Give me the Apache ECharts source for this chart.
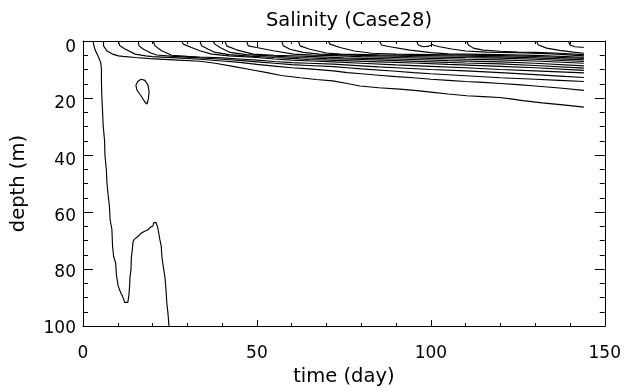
<!DOCTYPE html>
<html>
<head>
<meta charset="utf-8">
<script src="https://cdn.jsdelivr.net/npm/echarts@6/dist/echarts.min.js"></script>
<style>html,body{margin:0;padding:0;background:#fff}#c{width:624px;height:392px}</style>
</head>
<body>
<div id="c"></div>
<script>
// Tick labels
const xTicks = [0, 50, 100, 150];
const yTicks = [0, 20, 40, 60, 80, 100];

// Contour lines: [time (day), depth (m)]
const longContour = [[2.9,0],[3.1,1.5],[3.5,3.2],[4.4,5.4],[5.1,7.6],[5.3,10],[5.3,14],[5.4,19],[5.6,24],[5.8,29.6],[6.2,35],[6.3,40],[6.7,45],[6.9,50],[7.3,54.8],[7.6,58],[7.8,62.7],[8.3,66],[8.5,72],[8.8,75.5],[9.4,78],[9.6,82],[10.1,85.9],[10.9,88.5],[11.3,89.3],[12.0,91.7],[12.9,91.7],[13.2,89],[13.4,86],[13.5,83],[13.8,80],[13.9,76],[14.2,73],[14.4,70.3],[14.8,69.5],[15.8,68.6],[16.6,67.5],[17.6,66.8],[18.7,66.2],[19.5,65.2],[20.1,64.9],[20.3,63.8],[21.0,63.6],[21.5,65.5],[22.1,69.7],[22.5,72],[22.7,76],[23.2,80],[23.6,83.4],[23.9,88],[24.1,92],[24.4,95.2],[24.6,98],[24.7,100]];
const loopContour = [[16.7,13.4],[17.8,13.8],[18.7,15.5],[19.0,17.9],[18.8,20.3],[18.4,22.1],[17.8,21.4],[16.7,19.3],[15.5,17.2],[15.2,15.5],[15.8,14.1],[16.7,13.4]];
const c01 = [[5.9,0],[5.9,1.7],[6.9,3.5],[8.5,4.6],[10.2,5.2],[11.5,5.4],[15,5.8],[19.3,6.2],[26,6.6],[33.6,7.1],[38,7.8],[43.1,8.9],[48,10.0],[52.9,11.1],[57,12.1],[62.4,12.9],[67,13.5],[71.8,14.0],[76,14.9],[79.6,15.8],[85,16.4],[91.1,16.9],[96,17.4],[100.6,18.0],[105,18.6],[110.3,19.2],[115,19.5],[119.8,19.8],[123,20.3],[126.4,20.9],[132,21.7],[138,22.4],[144,23.2]];
const c02 = [[10.1,0],[10.6,1.7],[12.1,2.8],[15,4.6],[18,5.2],[20,5.5],[27,5.9],[33.6,6.4],[40,7.0],[45,7.5],[50,8.2],[55,8.8],[60,9.4],[65,9.8],[72,10.5],[76,11.1],[80,11.5],[85,12.0],[90,12.5],[95,12.9],[100,13.4],[105,13.8],[110,14.2],[115,14.5],[120,14.9],[125,15.3],[130,15.8],[137,16.5],[144,17.3]];
const c03 = [[15.9,0],[16.1,1.7],[17.4,2.9],[19.5,4.2],[21.2,4.9],[26,5.4],[33.6,5.9],[40,6.4],[45,6.8],[50,7.3],[55,7.8],[60,8.3],[65,8.6],[72,9.0],[76,9.4],[80,9.8],[90,10.6],[95,11.1],[100,11.5],[110,12.2],[120,12.9],[130,13.4],[137,13.8],[144,14.2]];
const c04 = [[20.2,0],[20.7,1.7],[22.6,3.4],[25.5,5.0],[30,5.4],[33.6,5.6],[40,5.9],[45,6.3],[50,6.7],[55,7.2],[60,7.6],[65,7.8],[72,8.1],[80,8.7],[85,9.1],[90,9.4],[100,10.0],[110,10.5],[120,11.1],[130,11.8],[137,12.3],[144,12.8]];
const c05 = [[28.4,0],[28.8,1.1],[31.2,2.3],[33.6,3.4],[37,4.6],[42,5.2],[50,5.8],[55,6.3],[60,6.7],[66,7.0],[72,7.3],[80,7.8],[90,8.4],[100,8.9],[110,9.4],[120,10.0],[130,10.5],[144,11.2]];
const c06 = [[33.6,0],[34.1,1.7],[36,2.9],[38,4.0],[42,4.8],[48,5.3],[55,5.8],[60,6.1],[65,6.5],[75,6.9],[85,7.3],[95,7.7],[105,8.2],[120,8.9],[130,9.4],[144,10.3]];
const c07 = [[37.4,0],[37.9,1.1],[39.4,2.3],[42.3,4.0],[47,4.8],[55,5.3],[62,5.8],[70,6.2],[80,6.5],[90,6.9],[100,7.3],[110,7.7],[120,8.0],[130,8.6],[144,9.5]];
const c08 = [[40.8,0],[41.3,1.7],[44.1,3.1],[48.9,4.6],[55,5.0],[65,5.4],[75,5.9],[85,6.2],[95,6.5],[105,6.9],[120,7.3],[130,7.8],[144,8.7]];
const c09 = [[47.0,0],[47.5,1.7],[49.9,2.3],[54.7,3.4],[60.5,4.6],[66,4.95],[72,5.15],[80,5.5],[90,5.8],[100,6.1],[110,6.4],[120,6.6],[130,7.0],[144,7.8]];
const c10 = [[57.1,0],[57.6,1.7],[59.5,2.9],[63.3,4.0],[68,4.6],[75,4.85],[80,5.05],[90,5.35],[100,5.6],[110,5.85],[120,6.0],[130,6.4],[144,7.2]];
const c11 = [[61.9,0],[62.4,1.7],[65.2,2.9],[70,4.2],[74,4.6],[85,4.85],[95,5.05],[110,5.35],[120,5.55],[130,5.9],[144,6.6]];
const c12 = [[70.5,0],[71,1.1],[73.9,2.3],[78,3.5],[83,4.3],[90,4.6],[105,4.85],[120,5.15],[130,5.45],[144,6.1]];
const c13 = [[85.3,0],[85.8,1.4],[88.2,2.0],[94,3.2],[100,4.1],[105,4.5],[120,4.8],[130,5.05],[144,5.7]];
const c14 = [[95.9,0],[96.4,1.4],[97.8,2.0],[99.5,1.8],[100.3,1.2],[101,1.6],[102.5,2.0],[106,2.8],[110,3.5],[116,3.9],[125,4.1],[135,4.5],[144,5.2]];
const c15 = [[110.3,0],[110.8,1.4],[112.2,2.5],[115,3.2],[120,3.6],[125,3.85],[130,4.0],[137,4.3],[144,4.8]];
const c16 = [[130.4,0],[130.9,1.4],[133.3,2.5],[137,3.3],[141,3.9],[144,4.3]];
const c17 = [[139.5,0],[140,1.4],[141.4,2.0],[143.3,2.2],[144,2.2]];

const contours = [longContour, loopContour, c01, c02, c03, c04, c05, c06, c07, c08, c09, c10, c11, c12, c13, c14, c15, c16, c17];

const FONT = "'DejaVu Sans', sans-serif";
const chart = echarts.init(document.getElementById('c'), null, {renderer: 'canvas'});

const axisCommon = {
  type: 'value',
  splitLine: {show: false},
  axisLine: {show: true, onZero: false, lineStyle: {color: '#000', width: 1}},
};

// per-label downward shift of the depth labels (as in the reference)
const yLabelRich = {};
const yShift = {0: 14, 20: 12, 40: 11, 60: 9, 80: 7, 100: 4};
yTicks.forEach(function (v) {
  yLabelRich['p' + v] = {fontFamily: FONT, fontSize: 17, color: '#000', padding: [yShift[v], 0, 0, 0]};
});

chart.setOption({
  animation: false,
  backgroundColor: '#fff',
  title: {
    text: 'Salinity (Case28)',
    left: 344, top: 6, textAlign: 'center',
    textStyle: {fontFamily: FONT, fontSize: 19.5, fontWeight: 'normal', color: '#000'}
  },
  grid: {left: 83, right: 19, top: 41, bottom: 61},
  xAxis: [
    Object.assign({}, axisCommon, {
      position: 'bottom', min: xTicks[0], max: xTicks[xTicks.length - 1], interval: 50,
      axisTick: {show: true, inside: true, length: 6, lineStyle: {color: '#000'}},
      minorTick: {show: true, splitNumber: 5, length: 3, lineStyle: {color: '#000'}},
      axisLabel: {color: '#000', fontFamily: FONT, fontSize: 17, margin: 19},
      name: 'time (day)', nameLocation: 'middle', nameGap: 39,
      nameTextStyle: {color: '#000', fontFamily: FONT, fontSize: 19.5}
    }),
    Object.assign({}, axisCommon, {
      position: 'top', min: 0, max: 150, interval: 50,
      axisTick: {show: true, inside: true, length: 6, lineStyle: {color: '#000'}},
      minorTick: {show: true, splitNumber: 5, length: 3, lineStyle: {color: '#000'}},
      axisLabel: {show: false}
    })
  ],
  yAxis: [
    Object.assign({}, axisCommon, {
      position: 'left', inverse: true, min: yTicks[0], max: yTicks[yTicks.length - 1], interval: 20,
      axisTick: {show: true, inside: true, length: 10, lineStyle: {color: '#000'}},
      minorTick: {show: true, splitNumber: 4, length: 5, lineStyle: {color: '#000'}},
      axisLabel: {
        color: '#000', fontFamily: FONT, fontSize: 17, margin: 7,
        formatter: function (v) { return '{p' + v + '|' + v + '}'; },
        rich: yLabelRich
      },
      name: 'depth (m)', nameLocation: 'middle', nameGap: 54, nameRotate: 90,
      nameTextStyle: {color: '#000', fontFamily: FONT, fontSize: 19.5}
    }),
    Object.assign({}, axisCommon, {
      position: 'right', inverse: true, min: 0, max: 100, interval: 20,
      axisTick: {show: true, inside: true, length: 10, lineStyle: {color: '#000'}},
      minorTick: {show: true, splitNumber: 4, length: 5, lineStyle: {color: '#000'}},
      axisLabel: {show: false}
    })
  ],
  series: contours.map(function (d) {
    return {
      type: 'line', data: d, xAxisIndex: 0, yAxisIndex: 0,
      showSymbol: false, symbol: 'none', smooth: false, silent: true,
      lineStyle: {color: '#000', width: 1.15}
    };
  })
});
</script>
</body>
</html>
